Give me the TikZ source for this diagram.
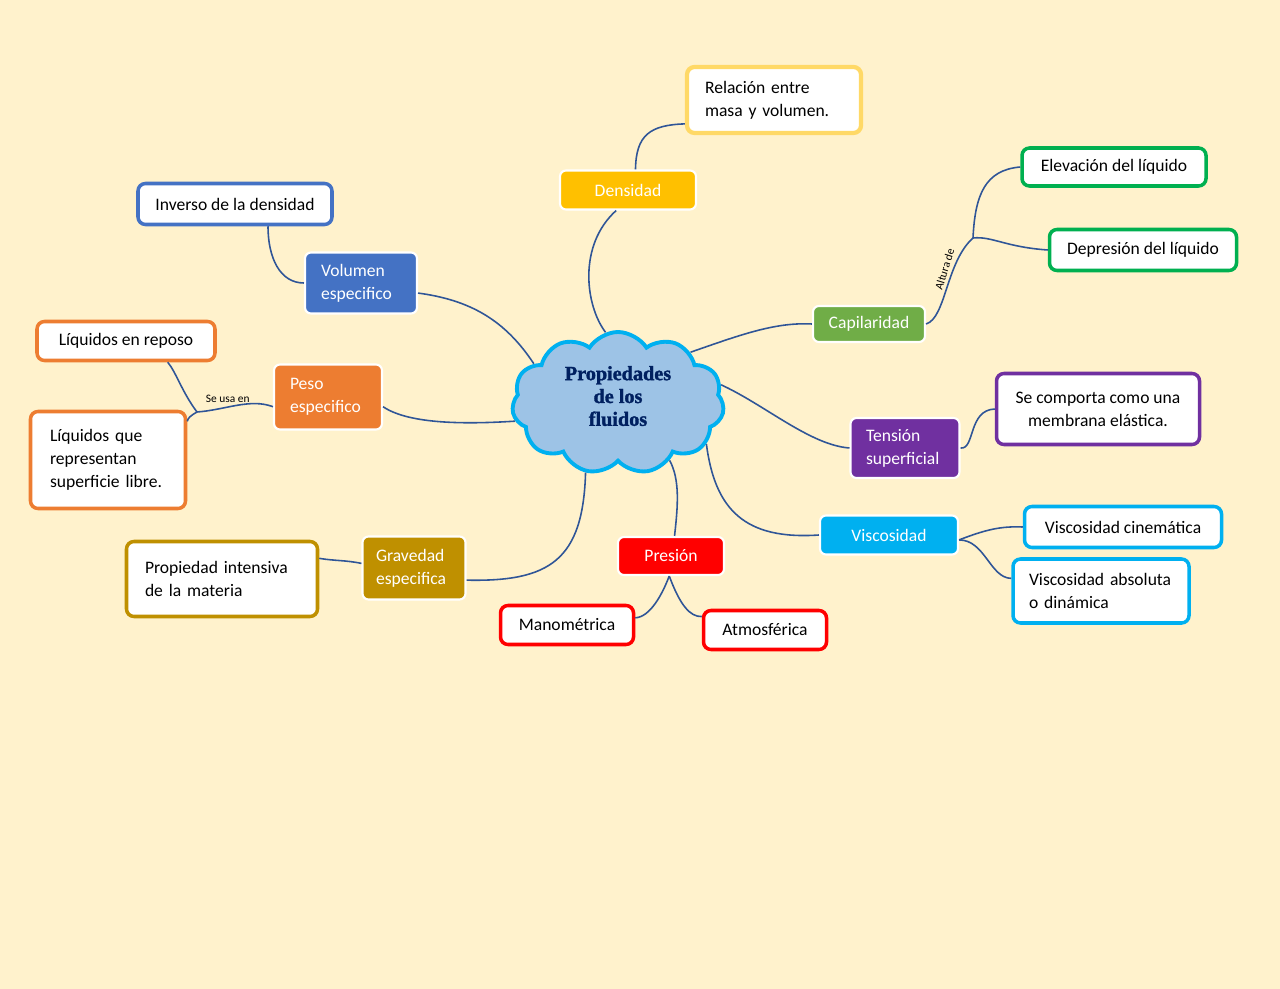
\documentclass[tikz,border=0pt]{standalone}
\usepackage{fontspec}
\setmainfont{Carlito}
\newfontfamily\titulofont{Liberation Serif}[BoldFeatures={FakeBold=1.6}]
\usetikzlibrary{shapes.symbols}

\definecolor{fondo}{HTML}{FFF2CC}
\definecolor{linea}{HTML}{2F5597}
\definecolor{ambar}{HTML}{FFC000}
\definecolor{ambarclaro}{HTML}{FFD966}
\definecolor{azul}{HTML}{4472C4}
\definecolor{naranja}{HTML}{ED7D31}
\definecolor{verde}{HTML}{70AD47}
\definecolor{verdeosc}{HTML}{00B050}
\definecolor{morado}{HTML}{7030A0}
\definecolor{celeste}{HTML}{00B0F0}
\definecolor{rojo}{HTML}{FF0000}
\definecolor{dorado}{HTML}{BF9000}
\definecolor{nubefill}{HTML}{9DC3E6}
\definecolor{marino}{HTML}{002060}

\begin{document}
\begin{tikzpicture}[x=0.02cm, y=-0.02cm,
	relleno/.style={draw=white, line width=1.2pt, rounded corners=0.12cm, text=white, inner sep=0pt, font=\fontsize{10}{13}\selectfont},
	borde/.style={fill=white, line width=2pt, rounded corners=0.15cm, text=black, inner sep=0pt, font=\fontsize{10}{13}\selectfont},
	tam/.style 2 args={minimum width=#1*0.02cm, minimum height=#2*0.02cm},
	izq/.style={align=left, text width=#1},
	rama/.style={draw=linea, line width=0.9pt},
	etiqueta/.style={font=\fontsize{6.5}{7}\selectfont, inner sep=2pt}]

	\fill[fondo] (0,0) rectangle (1280,989);

	% nodo central
	\node[cloud, cloud puffs=11, cloud puff arc=115, aspect=1.5, draw=celeste, fill=nubefill, line width=2.2pt,
		minimum width=212*0.02cm, minimum height=142*0.02cm, inner sep=0pt, align=center,
		text=marino, font=\titulofont\bfseries\fontsize{11.5}{13}\selectfont] (nube) at (618,403) {Propiedades\\de los\\fluidos\\[-5pt]};

	% ramas principales
	\node[relleno, fill=ambar, tam={136}{39}] (dens) at (628,190) {Densidad};
	\node[relleno, fill=azul, tam={112}{61}, izq=1.6cm] (vol) at (361,283) {Volumen\\especifico};
	\node[relleno, fill=naranja, tam={108}{65}, izq=1.52cm] (peso) at (328,397) {Peso\\especifico};
	\node[relleno, fill=dorado, tam={103}{63}, izq=1.52cm] (grav) at (414,568) {Gravedad\\especifica};
	\node[relleno, fill=rojo, tam={106}{38}] (pres) at (671,556) {Presión};
	\node[relleno, fill=celeste, tam={138}{39}] (vis) at (889,535) {Viscosidad};
	\node[relleno, fill=morado, tam={109}{60}, izq=1.56cm] (ten) at (905,448) {Tensión\\superficial};
	\node[relleno, fill=verde, tam={112}{36}] (cap) at (869,324) {Capilaridad};

	% hojas
	\node[borde, draw=ambarclaro, line width=2.4pt, tam={174}{66}, izq=2.76cm] (rel) at (774,100) {Relación entre\\masa y volumen.};
	\node[borde, draw=azul, tam={194}{41}] (inv) at (235,204) {Inverso de la densidad};
	\node[borde, draw=naranja, tam={178}{39}] (lrep) at (126,341) {Líquidos en reposo};
	\node[borde, draw=naranja, tam={155}{97}, izq=2.32cm] (lque) at (108,460) {Líquidos que\\representan\\superficie libre.};
	\node[borde, draw=dorado, tam={191}{75}, izq=3.08cm] (prop) at (222,579) {Propiedad intensiva\\de la materia};
	\node[borde, draw=rojo, tam={133}{39}] (mano) at (567,625) {Manométrica};
	\node[borde, draw=rojo, tam={123}{39}] (atm) at (765,630) {Atmosférica};
	\node[borde, draw=celeste, tam={197}{41}] (vcin) at (1123,527) {Viscosidad cinemática};
	\node[borde, draw=celeste, tam={176}{64}, izq=2.88cm] (vabs) at (1101,591) {Viscosidad absoluta\\o dinámica};
	\node[borde, draw=morado, tam={203}{71}, align=center] (sec) at (1098,409) {Se comporta como una\\membrana elástica.};
	\node[borde, draw=verdeosc, tam={184}{38}] (elev) at (1114,167) {Elevación del líquido};
	\node[borde, draw=verdeosc, tam={187}{41}] (dep) at (1143,250) {Depresión del líquido};

	% puntos de union
	\coordinate (usa) at (197,412);
	\coordinate (alt) at (973,238);

	% conectores
	\draw[rama] (nube.100) .. controls (585,305) and (578,245) .. (dens.240);
	\draw[rama] (dens.70) .. controls (636,135) and (650,125) .. (rel.195);
	\draw[rama] (nube.155) .. controls (505,320) and (470,300) .. (vol.350);
	\draw[rama] (inv.-34) .. controls (268,258) and (280,283) .. (vol.west);
	\draw[rama] (nube.190) .. controls (470,424) and (410,425) .. (peso.350);
	\draw[rama] (peso.190) .. controls (250,398) and (225,410) .. node[etiqueta, above, pos=0.62] {Se usa en} (usa);
	\draw[rama] (usa) .. controls (182,392) and (176,372) .. (lrep.-27);
	\draw[rama] (usa) .. controls (190,416) and (188,418) .. (lque.26);
	\draw[rama] (nube.35) .. controls (740,335) and (775,322) .. (cap.west);
	\draw[rama] (cap.east) .. controls (946,318) and (946,262) .. node[etiqueta, rotate=73, anchor=south, pos=0.65] {Altura de} (alt);
	\draw[rama] (alt) .. controls (975,195) and (985,170) .. (elev.west);
	\draw[rama] (alt) .. controls (992,236) and (1005,247) .. (dep.west);
	\draw[rama] (nube.10) .. controls (765,405) and (810,445) .. (ten.west);
	\draw[rama] (ten.east) .. controls (975,450) and (968,410) .. (sec.west);
	\draw[rama] (nube.-25) .. controls (715,510) and (745,540) .. (vis.west);
	\draw[rama] (vis.-4) .. controls (985,530) and (1000,526) .. (vcin.west);
	\draw[rama] (vis.-4) .. controls (985,540) and (990,578) .. (vabs.172);
	\draw[rama] (nube.245) .. controls (583,560) and (550,582) .. (grav.-13);
	\draw[rama] (grav.175) .. controls (345,560) and (335,561) .. (prop.12);
	\draw[rama] (nube.-48) .. controls (680,480) and (678,505) .. (pres.80);
	\draw[rama] (pres.265) .. controls (662,595) and (650,617) .. (mano.6);
	\draw[rama] (pres.265) .. controls (680,605) and (690,617) .. (atm.168);

\end{tikzpicture}
\end{document}
